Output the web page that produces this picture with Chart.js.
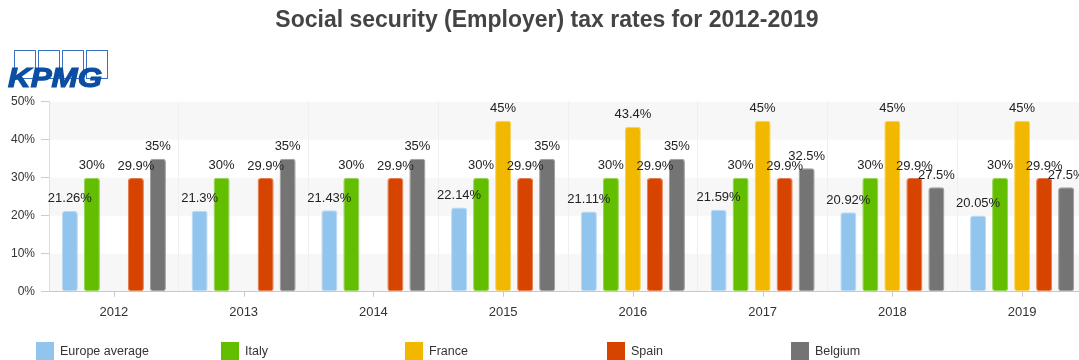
<!DOCTYPE html>
<html>
<head>
<meta charset="utf-8">
<title>Social security (Employer) tax rates</title>
<script src="https://cdn.jsdelivr.net/npm/chart.js@4/dist/chart.umd.min.js"></script>
<style>
  html, body { margin: 0; padding: 0; background: #fff; overflow: hidden; }
  #wrap { position: relative; width: 1079px; height: 360px; overflow: hidden; }
  #chart { position: absolute; left: 0; top: 0; }
  .legend-item { position: absolute; top: 342px; height: 18px; font: 12.5px "Liberation Sans", Arial, sans-serif; color: #333; line-height: 18px; white-space: nowrap; }
  .legend-item span.box { display: inline-block; width: 18px; height: 18px; vertical-align: top; margin-right: 6px; }
</style>
</head>
<body>
<div id="wrap">
  <canvas id="chart" width="1094" height="360"></canvas>
  <div id="legend"></div>
</div>
<script>
// ----------------------
// DATA
// ----------------------
const years = ["2012", "2013", "2014", "2015", "2016", "2017", "2018", "2019"];
const europeAverage = [21.26, 21.3, 21.43, 22.14, 21.11, 21.59, 20.92, 20.05];
const italy = [30, 30, 30, 30, 30, 30, 30, 30];
const france = [null, null, null, 45, 43.4, 45, 45, 45];
const spain = [29.9, 29.9, 29.9, 29.9, 29.9, 29.9, 29.9, 29.9];
const belgium = [35, 35, 35, 35, 35, 32.5, 27.5, 27.5];
const yTicks = [0, 10, 20, 30, 40, 50];

const FONT = '"Liberation Sans", Arial, sans-serif';

const series = [
  { label: "Europe average", data: europeAverage, color: "#92c5ee", edge: "#b8daf4" },
  { label: "Italy", data: italy, color: "#63be00", edge: "#90d34c" },
  { label: "France", data: france, color: "#f2b800", edge: "#f7d25e" },
  { label: "Spain", data: spain, color: "#d64400", edge: "#e47b4c" },
  { label: "Belgium", data: belgium, color: "#747474", edge: "#9c9c9c" },
];

// ----------------------
// PLUGINS
// ----------------------
// alternating horizontal bands behind the bars
const bandsPlugin = {
  id: "bands",
  beforeDraw(chart) {
    const { ctx, chartArea, scales } = chart;
    ctx.save();
    ctx.fillStyle = "#f7f7f7";
    for (let i = 0; i < yTicks.length - 1; i += 2) {
      const y1 = scales.y.getPixelForValue(yTicks[i + 1]);
      const y0 = scales.y.getPixelForValue(yTicks[i]);
      ctx.fillRect(chartArea.left, y1, chartArea.right - chartArea.left, y0 - y1);
    }
    ctx.restore();
  },
};

// tick marks centred under each year
const centerTicksPlugin = {
  id: "centerTicks",
  afterDraw(chart) {
    const { ctx, chartArea, scales } = chart;
    ctx.save();
    ctx.strokeStyle = "#c8c8c8";
    ctx.lineWidth = 1;
    years.forEach((_, i) => {
      const x = Math.round(scales.x.getPixelForValue(i)) + 0.5;
      ctx.beginPath();
      ctx.moveTo(x, chartArea.bottom);
      ctx.lineTo(x, chartArea.bottom + 5);
      ctx.stroke();
    });
    ctx.restore();
  },
};

// value labels above every bar
const valueLabelsPlugin = {
  id: "valueLabels",
  afterDatasetsDraw(chart) {
    const { ctx } = chart;
    ctx.save();
    ctx.font = "13px " + FONT;
    ctx.fillStyle = "#222";
    ctx.textAlign = "center";
    ctx.textBaseline = "middle";
    chart.data.datasets.forEach((ds, di) => {
      const meta = chart.getDatasetMeta(di);
      meta.data.forEach((bar, i) => {
        const v = ds.data[i];
        if (v === null || v === undefined) return;
        ctx.fillText(v + "%", bar.x, bar.y - 12);
      });
    });
    ctx.restore();
  },
};

// heading and logo
const headerPlugin = {
  id: "header",
  afterDraw(chart) {
    const { ctx } = chart;
    ctx.save();
    ctx.font = "bold 23px " + FONT;
    ctx.fillStyle = "#444";
    ctx.textAlign = "center";
    ctx.textBaseline = "middle";
    ctx.fillText("Social security (Employer) tax rates for 2012-2019", 547, 21);

    // logo boxes
    ctx.strokeStyle = "#3a70c0";
    ctx.lineWidth = 1;
    [14, 38, 62, 86].forEach((x) => ctx.strokeRect(x + 0.5, 50.5, 21, 28));

    // logo word
    ctx.font = "italic bold 28px " + FONT;
    ctx.fillStyle = "#0b4ea2";
    ctx.strokeStyle = "#0b4ea2";
    ctx.lineWidth = 1.2;
    ctx.textAlign = "left";
    ctx.textBaseline = "alphabetic";
    const w = ctx.measureText("KPMG").width;
    ctx.translate(8, 87);
    ctx.scale(94 / w, 1);
    ctx.fillText("KPMG", 0, 0);
    ctx.strokeText("KPMG", 0, 0);
    ctx.restore();
  },
};

// ----------------------
// CHART
// ----------------------
const ctx = document.getElementById("chart").getContext("2d");

new Chart(ctx, {
  type: "bar",
  data: {
    labels: years,
    datasets: series.map((s) => ({
      label: s.label,
      data: s.data,
      backgroundColor: s.color,
      borderColor: s.edge,
      borderWidth: 1,
      borderRadius: 3,
      borderSkipped: false,
      barPercentage: 0.73,
      categoryPercentage: 0.848,
    })),
  },
  options: {
    responsive: false,
    animation: false,
    layout: { padding: { top: 101.7, left: 0, right: 7, bottom: 38.3 } },
    plugins: {
      legend: { display: false },
      title: { display: false },
      tooltip: { enabled: false },
    },
    scales: {
      x: {
        offset: true,
        grid: { offset: true, color: "#efefef", drawTicks: false },
        border: { color: "#c8c8c8" },
        ticks: { color: "#333", font: { family: FONT, size: 13 }, padding: 13 },
        afterFit: (scale) => { scale.height = 30; },
      },
      y: {
        min: 0,
        max: 50,
        ticks: {
          stepSize: 10,
          color: "#333",
          font: { family: FONT, size: 12 },
          padding: 6,
          callback: (v) => v + "%",
        },
        grid: { drawOnChartArea: false, tickLength: 8, color: "#cccccc" },
        border: { color: "#dddddd" },
        afterFit: (scale) => { scale.width = 49; },
      },
    },
  },
  plugins: [bandsPlugin, centerTicksPlugin, valueLabelsPlugin, headerPlugin],
});

// ----------------------
// LEGEND
// ----------------------
const legendLefts = [36, 221, 405, 607, 791];
const legendEl = document.getElementById("legend");
series.forEach((s, i) => {
  const item = document.createElement("div");
  item.className = "legend-item";
  item.style.left = legendLefts[i] + "px";
  item.innerHTML = `<span class="box" style="background:${s.color}"></span>${s.label}`;
  legendEl.appendChild(item);
});
</script>
</body>
</html>
